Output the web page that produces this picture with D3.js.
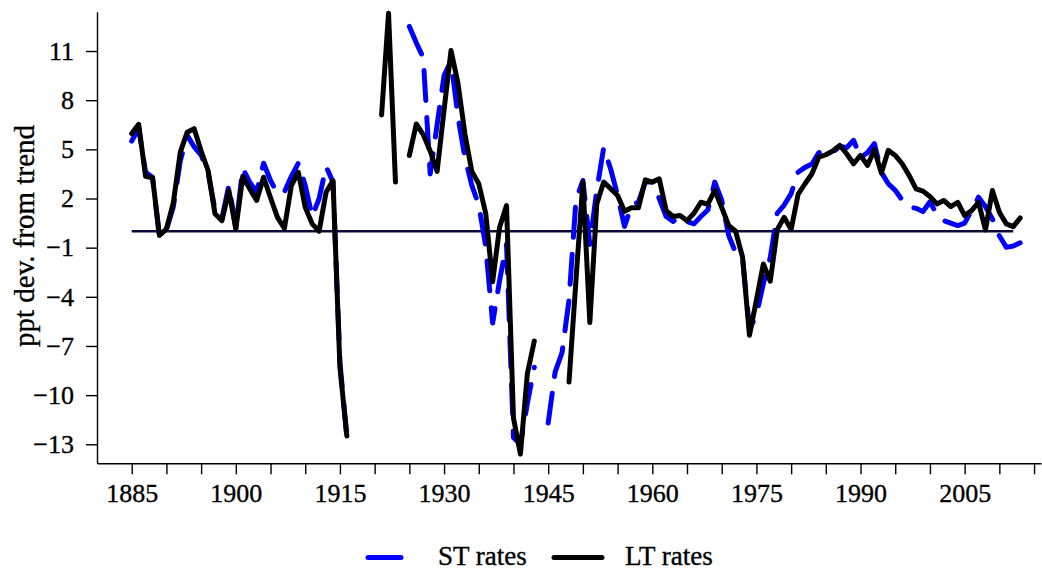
<!DOCTYPE html>
<html>
<head>
    <meta charset="utf-8">
    <title>ST and LT rates, deviation from trend</title>
    <style>
        body {
            margin: 0;
            background-color: white;
        }

        #chart text {
            font-family: "Liberation Serif", "Times New Roman", serif;
            fill: black;
            stroke: black;
            stroke-width: 0.35px;
        }
    </style>
    <script src="https://d3js.org/d3.v7.min.js"></script>
</head>

<body>
    <div id="chart"></div>

    <script>
        // years on the x axis (one value per year)
        var years = d3.range(1885, 2014);

        // short term rates, ppt deviation from trend (null = no data)
        var stRates = [
            5.5, 6.3, 3.6, 3.3, -0.4, 0.1, 1.5, 4.3, 5.85, 5.15,
            4.65, 3.6, 1.3, 0.8, 2.8, 0.2, 3.84, 3.0, 2.4, 4.15,
            3.1, 2.3, 2.4, 3.35, 4.15, 2.8, 0.9, 2.0, 3.95, 3.0,
            -8.0, -12.6, null, null, null, null, null, null, null, null,
            12.5, 11.5, 10.6, 3.5, 6.5, 9.5, 10.4, 7.0, 4.5, 2.8,
            1.6, -0.9, -5.6, -3.0, -0.8, -12.6, -13.0, -10.5, -8.3, null,
            -11.7, -8.6, -7.4, -4.2, 1.9, 3.1, -0.8, 2.5, 5.1, 3.8,
            2.2, 0.3, 1.57, 1.78, 3.0, 3.0, 2.0, 0.9, 0.6, 0.9,
            0.6, 0.45, 0.9, 1.3, 3.0, 1.9, -0.25, -1.3, -1.6, -6.0,
            -5.1, -3.2, -1.6, 1.1, 1.6, 2.3, 3.6, 3.9, 4.1, 4.8,
            4.9, 4.8, 5.2, 5.1, 5.55, 4.5, 4.8, 5.35, 3.6, 2.9,
            2.5, 1.9, 1.5, 1.4, 1.2, 1.8, 1.0, 0.65, 0.5, 0.35,
            0.5, 1.26, 2.08, 1.5, 0.75, -0.27, -0.98, -0.9, -0.7
        ];

        // long term rates, ppt deviation from trend (null = no data)
        var ltRates = [
            5.96, 6.53, 3.35, 3.27, -0.25, 0.13, 1.75, 4.83, 6.05, 6.26,
            4.9, 3.71, 1.07, 0.65, 2.49, 0.13, 3.35, 2.6, 1.88, 3.3,
            2.05, 0.85, 0.18, 2.79, 3.6, 1.47, 0.45, 0.0, 2.38, 3.09,
            -8.33, -12.5, null, null, null, null, 7.1, 13.3, 3.0, null,
            4.63, 6.55, 5.9, 4.9, 3.65, 7.4, 11.03, 9.05, 5.96, 3.65,
            2.9, 1.1, -3.08, 0.25, 1.57, -11.4, -13.6, -8.7, -6.7, null,
            null, null, null, -9.2, -3.0, 3.0, -5.57, 1.67, 3.0, 2.6,
            2.18, 1.22, 1.43, 1.43, 3.14, 3.0, 3.2, 1.26, 0.9, 0.96,
            0.65, 1.1, 1.77, 1.65, 2.5, 1.45, 0.36, 0.0, -1.57, -6.35,
            -4.2, -2.0, -3.05, 0.1, 0.85, 0.1, 2.25, 2.9, 3.51, 4.53,
            4.67, 4.9, 5.24, 4.73, 4.12, 4.63, 4.02, 4.98, 3.55, 4.94,
            4.63, 4.12, 3.41, 2.59, 2.45, 2.12, 1.67, 1.88, 1.51, 1.77,
            0.96, 1.26, 1.77, 0.08, 2.49, 1.16, 0.45, 0.28, 0.81
        ];

        // axis ticks
        var yTicks = [-13, -10, -7, -4, -1, 2, 5, 8, 11];
        var xTicks = d3.range(1885, 2016, 5);
        var xTickLabels = [1885, 1900, 1915, 1930, 1945, 1960, 1975, 1990, 2005];

        // zero line runs over these years
        var zeroLineYears = [1885, 2012];

        // legend entries
        var seriesNames = ["ST rates", "LT rates"];

        drawChart();

        function drawChart() {
            var width = 1042;
            var height = 571;

            var svg = d3.select("#chart").append("svg")
                .attr("width", width)
                .attr("height", height);

            // scales, fitted to the plot box of the picture
            var x = d3.scaleLinear()
                .domain([1880, 2016])
                .range([97, 1041]);

            var y = d3.scaleLinear()
                .domain([-14.16, 13.4])
                .range([463.3, 11.7]);

            // Y axis
            var yAxis = svg.append("g")
                .attr("transform", "translate(97,0)")
                .call(d3.axisLeft(y)
                    .tickValues(yTicks)
                    .tickSize(11)
                    .tickSizeOuter(0)
                    .tickPadding(12));
            yAxis.selectAll("text").style("font-size", "26px");

            // X axis, a tick every 5 years but a label every 15
            var xAxis = svg.append("g")
                .attr("transform", "translate(0,463.3)")
                .call(d3.axisBottom(x)
                    .tickValues(xTicks)
                    .tickSize(11)
                    .tickSizeOuter(0)
                    .tickPadding(9)
                    .tickFormat(function (d) {
                        return xTickLabels.indexOf(d) >= 0 ? String(d) : "";
                    }));
            xAxis.selectAll("text").style("font-size", "26px");

            svg.selectAll(".domain, .tick line")
                .attr("stroke", "black")
                .attr("stroke-width", 1.4);

            // Y label
            svg.append("text")
                .attr("transform", "translate(34,236) rotate(-90)")
                .style("text-anchor", "middle")
                .style("font-size", "29px")
                .text("ppt dev. from trend");

            // zero line
            svg.append("line")
                .attr("x1", x(zeroLineYears[0]))
                .attr("x2", x(zeroLineYears[1]))
                .attr("y1", y(0))
                .attr("y2", y(0))
                .attr("stroke", "#0a0a38")
                .attr("stroke-width", 2.3);

            var line = function (values) {
                return d3.line()
                    .defined(function (d, i) { return values[i] !== null; })
                    .x(function (d) { return x(d); })
                    .y(function (d, i) { return y(values[i]); })(years);
            };

            // ST rates, blue dashed
            svg.append("path")
                .attr("d", line(stRates))
                .attr("fill", "none")
                .attr("stroke", "#0000ff")
                .attr("stroke-width", 5)
                .attr("stroke-dasharray", "30,17")
                .attr("stroke-linejoin", "round")
                .attr("stroke-linecap", "round");

            // LT rates, black solid on top
            svg.append("path")
                .attr("d", line(ltRates))
                .attr("fill", "none")
                .attr("stroke", "black")
                .attr("stroke-width", 5)
                .attr("stroke-linejoin", "round")
                .attr("stroke-linecap", "round");

            // legend
            var legend = svg.append("g");
            legend.append("line")
                .attr("x1", 368).attr("x2", 401)
                .attr("y1", 557.5).attr("y2", 557.5)
                .attr("stroke", "#0000ff")
                .attr("stroke-width", 5)
                .attr("stroke-linecap", "round");
            legend.append("text")
                .attr("x", 438).attr("y", 565)
                .style("font-size", "27px")
                .text(seriesNames[0]);
            legend.append("line")
                .attr("x1", 554).attr("x2", 602)
                .attr("y1", 557.5).attr("y2", 557.5)
                .attr("stroke", "black")
                .attr("stroke-width", 5)
                .attr("stroke-linecap", "round");
            legend.append("text")
                .attr("x", 625).attr("y", 565)
                .style("font-size", "27px")
                .text(seriesNames[1]);
        }
    </script>
</body>
</html>
